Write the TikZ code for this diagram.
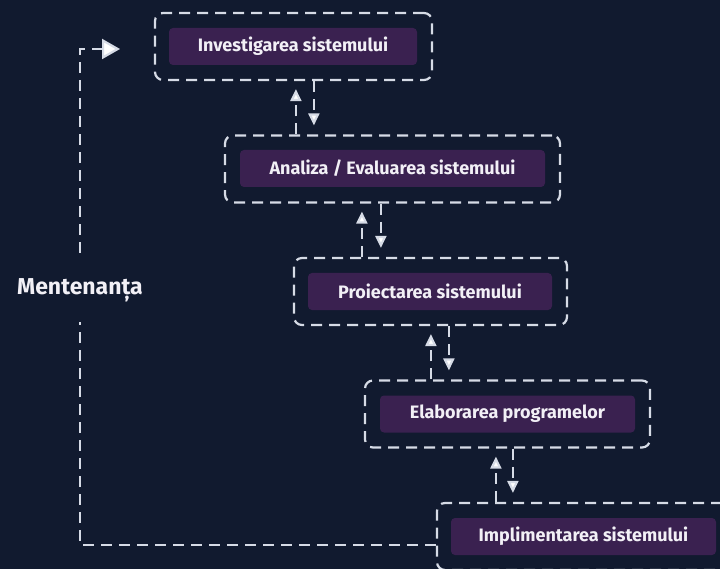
\documentclass[tikz,border=0pt]{standalone}
\usepackage{fontspec}
\setmainfont{Fira Sans}
\usetikzlibrary{arrows.meta,calc}
\definecolor{bg}{HTML}{111A2F}
\definecolor{boxfill}{HTML}{3A2150}
\definecolor{dashc}{HTML}{D6DBE6}
\definecolor{txt}{HTML}{F2F0F6}
\tikzset{
  outerbox/.style={draw=dashc, line width=2.2pt, dash pattern=on 11pt off 7pt, rounded corners=8pt, minimum width=#1, minimum height=67pt, inner sep=0pt},
  innerbox/.style={fill=boxfill, rounded corners=4pt, minimum width=#1, minimum height=37pt, inner sep=0pt, text=txt, font=\bfseries\fontsize{18}{20}\selectfont},
  conn/.style={draw=dashc, line width=2.2pt, dash pattern=on 11pt off 7pt},
  arr/.style={conn, -{Triangle[width=11pt,length=12pt,fill=white]}},
  bigarr/.style={conn, -{Triangle[width=20pt,length=18pt,fill=white]}},
}
\begin{document}
\begin{tikzpicture}[x=1pt,y=1pt]
\fill[bg] (0,0) rectangle (720,-569);
\clip (0,0) rectangle (720,-569);
\useasboundingbox (0,0) rectangle (720,-569);

\node[outerbox=277pt] (o1) at (293.5,-46.5) {};
\node[innerbox=248pt] (i1) at (293,-46.5) {Investigarea sistemului};
\node[outerbox=335pt] (o2) at (392.5,-169) {};
\node[innerbox=305pt] (i2) at (392.5,-168.5) {Analiza / Evaluarea sistemului};
\node[outerbox=273pt] (o3) at (430.5,-291.5) {};
\node[innerbox=244pt] (i3) at (430,-291.5) {Proiectarea sistemului};
\node[outerbox=285pt] (o4) at (507.5,-414) {};
\node[innerbox=255pt] (i4) at (507.5,-414) {Elaborarea programelor};
\node[outerbox=293pt] (o5) at (583.5,-536.5) {};
\node[innerbox=265pt] (i5) at (583.5,-536.5) {Implimentarea sistemului};

% arrows between boxes
\draw[arr] ([xshift=72pt]o2.north west) -- ([xshift=142pt,yshift=-8pt]o1.south west);
\draw[arr] ([xshift=160pt]o1.south west) -- ([xshift=90pt,yshift=9pt]o2.north west);
\draw[arr] ([xshift=69pt]o3.north west) -- ([xshift=138pt,yshift=-8pt]o2.south west);
\draw[arr] ([xshift=157pt]o2.south west) -- ([xshift=88pt,yshift=9pt]o3.north west);
\draw[arr] ([xshift=67pt]o4.north west) -- ([xshift=138pt,yshift=-8pt]o3.south west);
\draw[arr] ([xshift=156pt]o3.south west) -- ([xshift=85pt,yshift=9pt]o4.north west);
\draw[arr] ([xshift=60pt]o5.north west) -- ([xshift=132pt,yshift=-8pt]o4.south west);
\draw[arr] ([xshift=149pt]o4.south west) -- ([xshift=77pt,yshift=9pt]o5.north west);

% maintenance loop
\coordinate (lb) at (80,-545);
\coordinate (lt) at (80,-49);
\coordinate (tip) at (120,-49);
\draw[bigarr] ([yshift=-8.5pt]o5.west) -- (lb) -- (lt) -- (tip);
\node[fill=bg, text=txt, font=\bfseries\fontsize{23}{25}\selectfont, inner xsep=2pt, inner ysep=20pt] (m) at (80,-290) {Mentenanța};
\end{tikzpicture}
\end{document}
